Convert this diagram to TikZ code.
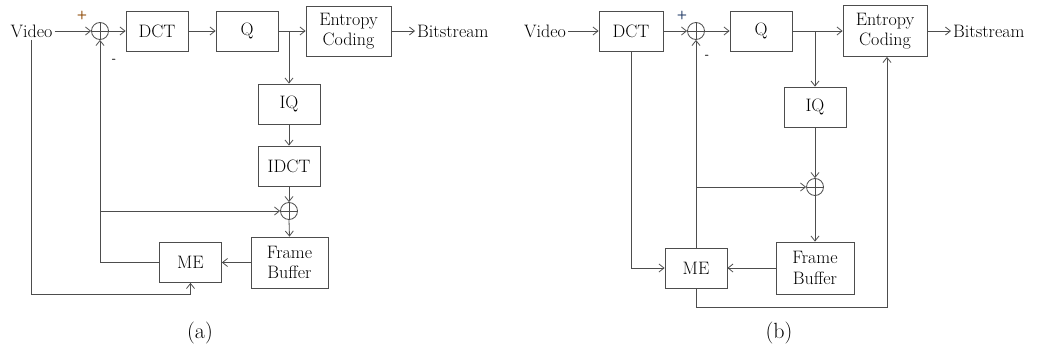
\documentclass[tikz,border=0pt]{standalone}
\usepackage{fontspec}
\usetikzlibrary{arrows.meta}
\definecolor{lc}{HTML}{4D4D4D}
\definecolor{pa}{HTML}{8B4500}
\definecolor{pb}{HTML}{1F3864}
\newcommand{\lblfont}{\fontsize{18}{20.5}\selectfont}
\newcommand{\capfont}{\fontsize{22}{24}\selectfont}
\begin{document}
\begin{tikzpicture}[x=1pt,y=-1pt,
  line/.style={draw=lc, line width=0.8pt},
  arr/.style={line, -{Straight Barb[length=5pt,width=8pt]}},
  blk/.style={draw=lc, line width=0.8pt, minimum width=62pt, minimum height=40pt, inner sep=0pt, align=center, font=\lblfont},
  sumc/.style={circle, draw=lc, line width=0.8pt, minimum size=17pt, inner sep=0pt,
    path picture={\draw[lc, line width=0.8pt] (path picture bounding box.north) -- (path picture bounding box.south) (path picture bounding box.west) -- (path picture bounding box.east);}},
  txt/.style={font=\lblfont, inner sep=2pt},
  captxt/.style={font=\capfont, inner sep=0pt},
  sgn/.style={font=\sffamily\bfseries\fontsize{12}{12}\selectfont, inner sep=0pt}
]
\useasboundingbox (0,0) rectangle (1053,351);

% ---------- panel (a)
\node[txt] (va) at (31.5,31) {Video};
\node[sumc] (sa1) at (100,31) {};
\node[blk] (dcta) at (157,31) {DCT};
\node[blk] (qa) at (247,31) {Q};
\coordinate (ja) at (289,31);
\node[blk, minimum width=85pt, minimum height=50pt] (eca) at (348.5,31) {Entropy\\Coding};
\node[txt, anchor=west] (bsa) at (415,31) {Bitstream};
\node[blk] (iqa) at (289,104) {IQ};
\node[blk] (idcta) at (289,166) {IDCT};
\node[sumc] (sa2) at (289,211) {};
\node[blk, minimum width=77pt, minimum height=51pt] (fba) at (289.5,262.5) {Frame\\Buffer};
\node[blk] (mea) at (190.5,262.5) {ME};
\node[sgn, text=pa] (pla) at (82,15) {+};
\node[sgn] (mia) at (114,61) {-};
\node[captxt] (capa) at (200,333) {(a)};
\coordinate (ka) at (100,211);
\coordinate (la) at (190.5,294);

\draw[arr] (va.east) -- (sa1.west);
\draw[arr] (sa1.east) -- (dcta.west);
\draw[arr] (dcta.east) -- (qa.west);
\draw[line] (qa.east) -- (ja);
\draw[arr] (ja) -- (eca.west);
\draw[arr] (ja) -- (iqa.north);
\draw[arr] (eca.east) -- (bsa.west);
\draw[arr] (iqa.south) -- (idcta.north);
\draw[arr] (idcta.south) -- (sa2.north);
\draw[arr] (sa2.south) -- (fba.north);
\draw[arr] (fba.west) -- (mea.east);
\draw[arr] (mea.west) -| (sa1.south);
\draw[arr] (ka) -- (sa2.west);
\draw[arr] (va.south) -- (va.south |- la) -- (la) -- (mea.south);

% ---------- panel (b)
\node[txt] (vb) at (545,31) {Video};
\node[blk, minimum width=64pt] (dctb) at (631,31) {DCT};
\node[sumc] (sb1) at (696,31) {};
\node[blk] (qb) at (761,31) {Q};
\coordinate (jb) at (815,31);
\node[blk, minimum width=84pt, minimum height=51pt] (ecb) at (885,31) {Entropy\\Coding};
\node[txt, anchor=west] (bsb) at (951,31) {Bitstream};
\node[blk] (iqb) at (815,107) {IQ};
\node[sumc] (sb2) at (815,187) {};
\node[blk, minimum width=78pt, minimum height=52pt] (fbb) at (815,268) {Frame\\Buffer};
\node[blk] (meb) at (696,268) {ME};
\node[sgn, text=pb] (plb) at (682,15) {+};
\node[sgn] (mib) at (707,57) {-};
\node[captxt] (capb) at (779,333) {(b)};
\coordinate (kb) at (696,187);
\coordinate (lb) at (696,307);
\coordinate (nb) at (887,307);

\draw[arr] (vb.east) -- (dctb.west);
\draw[arr] (dctb.east) -- (sb1.west);
\draw[arr] (sb1.east) -- (qb.west);
\draw[line] (qb.east) -- (jb);
\draw[arr] (jb) -- (ecb.west);
\draw[arr] (jb) -- (iqb.north);
\draw[arr] (ecb.east) -- (bsb.west);
\draw[arr] (iqb.south) -- (sb2.north);
\draw[arr] (sb2.south) -- (fbb.north);
\draw[arr] (fbb.west) -- (meb.east);
\draw[arr] (dctb.south) |- (meb.west);
\draw[arr] (meb.north) -- (sb1.south);
\draw[arr] (kb) -- (sb2.west);
\draw[arr] (meb.south) -- (lb) -- (nb) -- (nb |- ecb.south);
\end{tikzpicture}
\end{document}
